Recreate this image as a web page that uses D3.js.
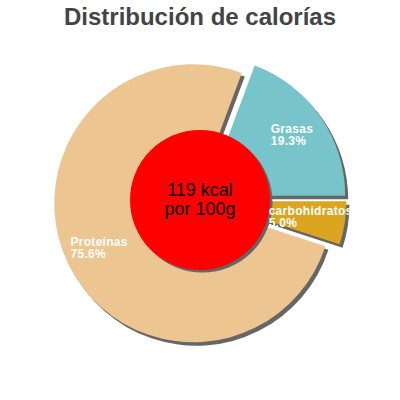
<!DOCTYPE html>
<html>
<head>
<meta charset="utf-8">
<script src="https://cdn.jsdelivr.net/npm/d3@7"></script>
<style>
  body { margin: 0; background: #fff; }
  svg { font-family: "Liberation Sans", Arial, sans-serif; }
</style>
</head>
<body>
<div id="chart"></div>
<script>
// chart data
const categories = ["carbohidratos", "Proteínas", "Grasas"];
const percents = [5.0, 75.6, 19.3];
const colors = ["#daa520", "#edc590", "#77c4cb"];
const centerLines = ["119 kcal", "por 100g"];
const title = "Distribución de calorías";

const width = 400;
const height = 400;
const cx = 200, cy = 200;
const outerR = 139;
const innerR = 70;
const explode = 7.5;

const svg = d3.select("#chart")
    .append("svg")
    .attr("width", width)
    .attr("height", height);

// title
svg.append("text")
    .attr("x", width / 2)
    .attr("y", 25)
    .attr("text-anchor", "middle")
    .attr("font-size", "24px")
    .attr("font-weight", "bold")
    .style("fill", "#444")
    .text(title);

const data = categories.map((c, i) => ({ name: c, value: percents[i], color: colors[i] }));

// pie starts at 3 o'clock so that carbs sit just below the horizontal
const pie = d3.pie()
    .sort(null)
    .value(d => d.value)
    .startAngle(Math.PI / 2)
    .endAngle(Math.PI / 2 + 2 * Math.PI);

const arc = d3.arc().innerRadius(0).outerRadius(outerR);
const labelArc = d3.arc().innerRadius(innerR).outerRadius(outerR);

const arcs = pie(data);

// offset of each exploded slice
function shift(d) {
    const mid = (d.startAngle + d.endAngle) / 2;
    return [Math.sin(mid) * explode, -Math.cos(mid) * explode];
}

const g = svg.append("g").attr("transform", `translate(${cx},${cy})`);

// shadows first
g.selectAll("path.shadow")
    .data(arcs)
    .enter()
    .append("path")
    .attr("class", "shadow")
    .attr("d", arc)
    .attr("transform", d => {
        const s = shift(d);
        return `translate(${s[0] + 3},${s[1] + 3.5})`;
    })
    .style("fill", "#666");

g.selectAll("path.slice")
    .data(arcs)
    .enter()
    .append("path")
    .attr("class", "slice")
    .attr("d", arc)
    .attr("transform", d => {
        const s = shift(d);
        return `translate(${s[0]},${s[1]})`;
    })
    .style("fill", d => d.data.color);

// centre disc
g.append("circle")
    .attr("cx", 2.5)
    .attr("cy", 2.5)
    .attr("r", innerR)
    .style("fill", "#666");
g.append("circle")
    .attr("r", innerR)
    .style("fill", "#ff0000");

g.selectAll("text.center")
    .data(centerLines)
    .enter()
    .append("text")
    .attr("class", "center")
    .attr("x", 0)
    .attr("y", (d, i) => -4 + i * 19)
    .attr("text-anchor", "middle")
    .attr("font-size", "18px")
    .style("fill", "#000")
    .text(d => d);

// slice labels, block centred on the ring centroid, lines left aligned
arcs.forEach(d => {
    const c = labelArc.centroid(d);
    const s = shift(d);
    const lbl = g.append("text")
        .attr("font-size", "12px")
        .attr("font-weight", "bold")
        .attr("letter-spacing", "0.3px")
        .style("fill", "#fff");
    lbl.append("tspan").attr("x", 0).attr("y", 0).text(d.data.name);
    lbl.append("tspan").attr("x", 0).attr("y", 12).text(d.data.value.toFixed(1) + "%");
    const w = lbl.node().getBBox().width;
    lbl.attr("transform", `translate(${c[0] + s[0] - w / 2},${c[1] + s[1] - 3})`);
});
</script>
</body>
</html>
